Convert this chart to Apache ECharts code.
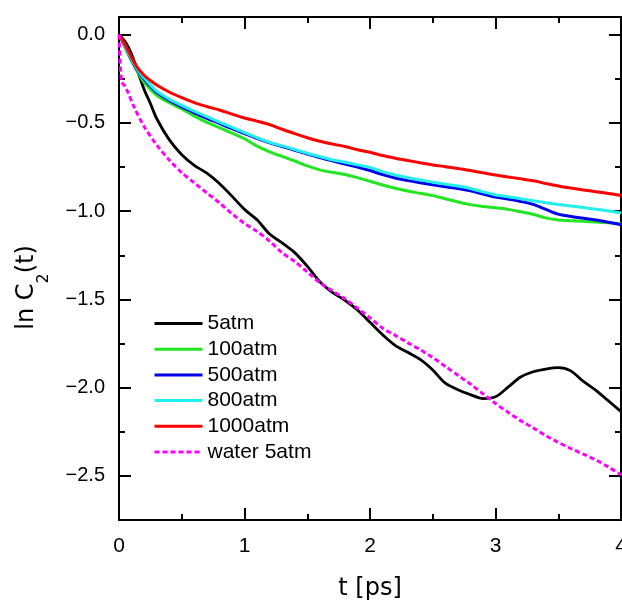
<!DOCTYPE html>
<html><head><meta charset="utf-8">
<script src="https://cdn.jsdelivr.net/npm/echarts@6/dist/echarts.min.js"></script>
<style>html,body{margin:0;padding:0;background:#fff;}#c{width:622px;height:600px;}</style>
</head><body><div id="c"></div>
<script>
// time axis (ps)
const time = [0, 0.05, 0.1, 0.15, 0.2, 0.25, 0.3, 0.4, 0.5, 0.6, 0.7, 0.8, 0.9, 1.0, 1.1, 1.2, 1.3, 1.4, 1.5, 1.6, 1.7, 1.8, 1.9, 2.0, 2.1, 2.2, 2.3, 2.4, 2.5, 2.6, 2.7, 2.8, 2.9, 3.0, 3.1, 3.2, 3.3, 3.4, 3.5, 3.6, 3.7, 3.8, 3.9, 4.0];
const atm5 = [0, -0.04, -0.11, -0.21, -0.31, -0.39, -0.475, -0.595, -0.68, -0.74, -0.785, -0.843, -0.915, -0.99, -1.049, -1.13, -1.18, -1.235, -1.312, -1.40, -1.46, -1.505, -1.56, -1.63, -1.70, -1.76, -1.80, -1.84, -1.90, -1.975, -2.012, -2.04, -2.062, -2.052, -1.997, -1.94, -1.91, -1.895, -1.887, -1.905, -1.965, -2.015, -2.075, -2.136];
const atm100 = [0, -0.075, -0.15, -0.215, -0.27, -0.31, -0.343, -0.386, -0.421, -0.462, -0.497, -0.527, -0.558, -0.59, -0.632, -0.664, -0.69, -0.716, -0.744, -0.766, -0.78, -0.792, -0.81, -0.831, -0.852, -0.87, -0.886, -0.899, -0.912, -0.93, -0.948, -0.963, -0.974, -0.981, -0.99, -1.004, -1.018, -1.038, -1.05, -1.054, -1.058, -1.062, -1.066, -1.071];
const atm500 = [0, -0.07, -0.142, -0.205, -0.252, -0.292, -0.327, -0.373, -0.41, -0.443, -0.474, -0.503, -0.533, -0.561, -0.588, -0.613, -0.634, -0.655, -0.676, -0.696, -0.715, -0.733, -0.75, -0.77, -0.793, -0.812, -0.827, -0.839, -0.851, -0.862, -0.872, -0.885, -0.903, -0.92, -0.932, -0.945, -0.962, -0.99, -1.017, -1.03, -1.04, -1.05, -1.063, -1.077];
const atm800 = [0, -0.07, -0.14, -0.2, -0.245, -0.285, -0.32, -0.366, -0.401, -0.434, -0.465, -0.495, -0.526, -0.555, -0.583, -0.61, -0.63, -0.651, -0.672, -0.691, -0.709, -0.723, -0.738, -0.752, -0.776, -0.795, -0.81, -0.823, -0.836, -0.847, -0.858, -0.872, -0.891, -0.908, -0.918, -0.93, -0.941, -0.952, -0.962, -0.971, -0.98, -0.989, -0.999, -1.01];
const atm1000 = [0, -0.06, -0.13, -0.19, -0.23, -0.26, -0.285, -0.325, -0.357, -0.385, -0.407, -0.427, -0.45, -0.472, -0.49, -0.51, -0.536, -0.561, -0.584, -0.604, -0.62, -0.634, -0.652, -0.666, -0.685, -0.70, -0.713, -0.726, -0.738, -0.748, -0.758, -0.77, -0.783, -0.795, -0.806, -0.817, -0.828, -0.843, -0.857, -0.869, -0.88, -0.89, -0.90, -0.911];
const timeWater = [0, 0.02, 0.045, 0.07, 0.12, 0.2, 0.3, 0.4, 0.5, 0.6, 0.7, 0.8, 0.9, 1.0, 1.1, 1.2, 1.3, 1.4, 1.5, 1.6, 1.7, 1.8, 1.9, 2.0, 2.1, 2.2, 2.3, 2.4, 2.5, 2.6, 2.7, 2.8, 2.9, 3.0, 3.1, 3.2, 3.3, 3.4, 3.5, 3.6, 3.7, 3.8, 3.9, 4.0];
const water5 = [0, -0.265, -0.29, -0.325, -0.41, -0.52, -0.625, -0.71, -0.782, -0.84, -0.897, -0.953, -1.015, -1.07, -1.115, -1.17, -1.236, -1.285, -1.345, -1.405, -1.452, -1.497, -1.55, -1.605, -1.663, -1.703, -1.745, -1.785, -1.83, -1.88, -1.93, -1.98, -2.035, -2.09, -2.14, -2.187, -2.228, -2.272, -2.31, -2.345, -2.377, -2.41, -2.45, -2.494];

const seriesNames = ['5atm', '100atm', '500atm', '800atm', '1000atm', 'water 5atm'];
const xTicks = [0, 1, 2, 3, 4];
const yMajorTicks = [-2.5, -2, -1.5, -1, -0.5, 0];
const yMinorTicks = [-2.25, -1.75, -1.25, -0.75, -0.25];

const pairs = (ts, vs) => ts.map((t, i) => [t, vs[i]]);
const tickFont = 'Liberation Sans, Arial, sans-serif';
const titleFont = 'DejaVu Sans, sans-serif';
const black = '#000';
const axLine = {show: true, onZero: false, lineStyle: {color: black, width: 2}};
const tickStyle = {color: black, width: 2};

function yAx(pos, major, withLabel) {
  const a = {
    type: 'value', position: pos, min: -2.75, max: 0.1,
    axisLine: axLine,
    axisTick: {show: true, inside: true, length: major ? 12 : 6, lineStyle: tickStyle,
      customValues: major ? yMajorTicks : yMinorTicks},
    axisLabel: withLabel ? {show: true, customValues: yMajorTicks, fontSize: 20, fontFamily: tickFont, color: black, margin: 14,
      formatter: v => (v < 0 ? '\u2212' : '') + Math.abs(v).toFixed(1)} : {show: false},
    splitLine: {show: false}
  };
  if (withLabel) {
    a.name = 'ln C{sub|2}(t)';
    a.nameLocation = 'middle';
    a.nameGap = 67;
    a.nameTextStyle = {fontSize: 24, fontFamily: titleFont, color: black, padding: [0, 38, 0, 0],
      rich: {sub: {fontSize: 16, fontFamily: titleFont, color: black, lineHeight: 51, verticalAlign: 'bottom'}}};
  }
  return a;
}
function xAx(pos, withLabel) {
  const a = {
    type: 'value', position: pos, min: 0, max: 4, interval: 1,
    axisLine: axLine,
    axisTick: {show: true, inside: true, length: 12, lineStyle: tickStyle},
    minorTick: {show: true, splitNumber: 2, length: 6, lineStyle: tickStyle},
    axisLabel: withLabel ? {show: true, fontSize: 21, fontFamily: tickFont, color: black, margin: 16,
      formatter: v => xTicks.includes(v) ? String(v) : ''} : {show: false},
    splitLine: {show: false}, minorSplitLine: {show: false}
  };
  if (withLabel) {
    a.name = 't [ps]';
    a.nameLocation = 'middle';
    a.nameGap = 57;
    a.nameTextStyle = {fontSize: 24, fontFamily: titleFont, color: black};
  }
  return a;
}
function line(name, ts, vs, color, extra) {
  return Object.assign({
    name: name, type: 'line', data: pairs(ts, vs), symbol: 'none', showSymbol: false, smooth: 0.3,
    lineStyle: {color: color, width: 3}, itemStyle: {color: color}, xAxisIndex: 0, yAxisIndex: 0
  }, extra || {});
}

const chart = echarts.init(document.getElementById('c'), null, {renderer: 'canvas'});
chart.setOption({
  animation: false,
  backgroundColor: '#fff',
  grid: {left: 119, top: 17, width: 502, height: 503, containLabel: false, outerBoundsMode: 'none'},
  xAxis: [xAx('bottom', true), xAx('top', false)],
  yAxis: [yAx('left', true, true), yAx('left', false, false), yAx('right', true, false), yAx('right', false, false)],
  legend: {
    orient: 'vertical', left: 153, top: 313, padding: 0,
    itemWidth: 48, itemHeight: 14, itemGap: 4.7,
    itemStyle: {opacity: 0},
    lineStyle: {width: 3},
    textStyle: {fontSize: 21, fontFamily: tickFont, color: black, lineHeight: 21},
    data: seriesNames
  },
  series: [
    line(seriesNames[0], time, atm5, '#000000', {lineStyle: {color: '#000000', width: 2.8}}),
    line(seriesNames[1], time, atm100, '#22e622'),
    line(seriesNames[2], time, atm500, '#0000ee'),
    line(seriesNames[3], time, atm800, '#22eeee'),
    line(seriesNames[4], time, atm1000, '#ff0000'),
    line(seriesNames[5], timeWater, water5, '#ff00ff', {lineStyle: {color: '#ff00ff', width: 3, type: [5, 3]}})
  ]
});
</script></body></html>
